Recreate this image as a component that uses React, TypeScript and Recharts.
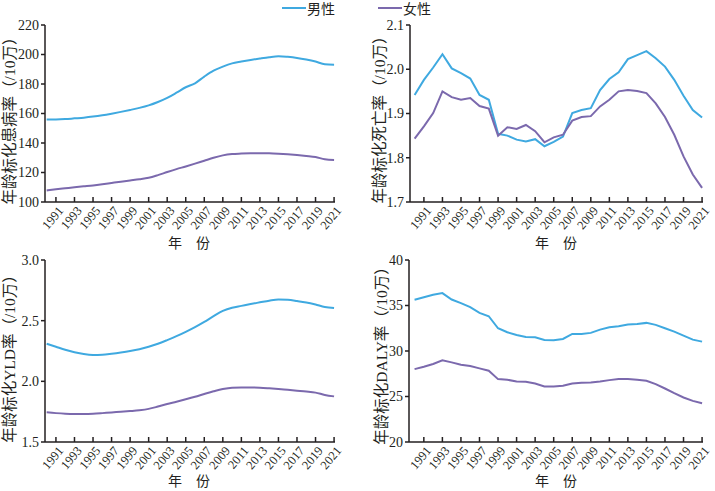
import React from "react";
import { LineChart, Line, XAxis, YAxis } from "recharts";

const years = [
  1990, 1991, 1992, 1993, 1994, 1995, 1996, 1997, 1998, 1999, 2000, 2001,
  2002, 2003, 2004, 2005, 2006, 2007, 2008, 2009, 2010, 2011, 2012, 2013,
  2014, 2015, 2016, 2017, 2018, 2019, 2020, 2021,
];
const yearTicks = [
  1991, 1993, 1995, 1997, 1999, 2001, 2003, 2005, 2007, 2009, 2011, 2013,
  2015, 2017, 2019, 2021,
];

// 患病率
const prevMale = [
  156.0, 156.0, 156.2, 156.7, 157.2, 157.9, 158.8, 159.9, 161.1, 162.4, 163.8,
  165.5, 167.8, 170.6, 174.1, 177.8, 180.5, 185.0, 189.0, 191.8, 194.0, 195.2,
  196.3, 197.3, 198.2, 198.8, 198.4, 197.7, 196.6, 195.2, 193.4, 193.0,
];
const prevFemale = [
  107.8, 108.6, 109.3, 110.0, 110.6, 111.2, 112.0, 112.9, 113.8, 114.6, 115.4,
  116.4, 118.2, 120.3, 122.3, 124.1, 126.0, 128.0, 130.0, 131.6, 132.5, 132.8,
  133.0, 133.1, 133.0, 132.7, 132.3, 131.8, 131.2, 130.5, 129.0, 128.5,
];
const prevTicks = [100, 120, 140, 160, 180, 200, 220];

// 死亡率
const deathMale = [
  1.942, 1.976, 2.004, 2.034, 2.002, 1.991, 1.979, 1.942, 1.931, 1.854, 1.85,
  1.841, 1.837, 1.842, 1.826, 1.836, 1.848, 1.901, 1.908, 1.912, 1.953, 1.978,
  1.993, 2.023, 2.032, 2.041, 2.025, 2.006, 1.976, 1.94, 1.908, 1.891,
];
const deathFemale = [
  1.843, 1.871, 1.901, 1.95, 1.937, 1.931, 1.935, 1.917, 1.911, 1.85, 1.869,
  1.865, 1.874, 1.86, 1.835, 1.846, 1.852, 1.884, 1.892, 1.894, 1.916, 1.931,
  1.95, 1.953, 1.951, 1.946, 1.923, 1.892, 1.852, 1.803, 1.762, 1.732,
];
const deathTicks = [1.7, 1.8, 1.9, 2.0, 2.1];

// YLD率
const yldMale = [
  2.31, 2.285, 2.26, 2.24, 2.225, 2.218, 2.22, 2.228, 2.238, 2.25, 2.265,
  2.285, 2.31, 2.34, 2.372, 2.408, 2.447, 2.49, 2.537, 2.58, 2.607, 2.622,
  2.637, 2.651, 2.665, 2.675, 2.672, 2.662, 2.65, 2.633, 2.613, 2.605,
];
const yldFemale = [
  1.745, 1.738, 1.733, 1.731, 1.731, 1.733, 1.738, 1.744, 1.749, 1.755, 1.762,
  1.773, 1.792, 1.813, 1.832, 1.852, 1.873, 1.896, 1.918, 1.937, 1.948, 1.95,
  1.95, 1.948, 1.943, 1.937, 1.93, 1.923, 1.916, 1.907, 1.888, 1.876,
];
const yldTicks = [1.5, 2.0, 2.5, 3.0];

// DALY率
const dalyMale = [
  35.63, 35.9, 36.18, 36.36, 35.66, 35.26, 34.82, 34.19, 33.82, 32.5, 32.06,
  31.76, 31.54, 31.5, 31.21, 31.18, 31.32, 31.88, 31.88, 31.99, 32.35, 32.61,
  32.72, 32.9, 32.98, 33.09, 32.87, 32.5, 32.13, 31.69, 31.25, 31.03,
];
const dalyFemale = [
  28.01, 28.27, 28.57, 28.97, 28.75, 28.5, 28.35, 28.09, 27.83, 26.91, 26.84,
  26.65, 26.62, 26.43, 26.1, 26.1, 26.18, 26.43, 26.51, 26.54, 26.65, 26.8,
  26.91, 26.91, 26.84, 26.73, 26.36, 25.88, 25.37, 24.89, 24.52, 24.26,
];
const dalyTicks = [20, 25, 30, 35, 40];

const seriesNames = ["男性", "女性"];
const seriesColors = ["#3fa9e0", "#7b69ad"];

const INK = "#231f20";
const FONT = "'Liberation Serif', 'Noto Sans CJK SC', serif";

const rows = (male: number[], female: number[]) =>
  years.map((y, i) => ({ year: y, male: male[i], female: female[i] }));

const YearTick = (props: any) => {
  const { x, y, payload } = props;
  return (
    <g>
      <line x1={x} y1={y} x2={x} y2={y - 5} stroke={INK} strokeWidth={1.5} />
      <text
        x={x + 8}
        y={y + 9}
        transform={`rotate(-50, ${x + 8}, ${y + 9})`}
        textAnchor="end"
        fontSize={12.5}
        fontFamily={FONT}
        fill={INK}
      >
        {payload.value}
      </text>
    </g>
  );
};

type PanelProps = {
  left: number;
  top: number;
  height: number;
  margin: { top: number; right: number; bottom: number; left: number };
  data: { year: number; male: number; female: number }[];
  ticks: number[];
  xDomain: [number, number];
  yLabel: string;
  yLabelPos: [number, number];
  xLabelPos: [number, number];
  curve: "monotone" | "linear";
  fmt?: (v: number) => string;
};

function Panel(p: PanelProps) {
  return (
    <div style={{ position: "absolute", left: p.left, top: p.top }}>
      <LineChart width={360} height={p.height} data={p.data} margin={p.margin}>
        <XAxis
          dataKey="year"
          type="number"
          domain={p.xDomain}
          ticks={yearTicks}
          interval={0}
          tickSize={0}
          tickMargin={0}
          tickLine={false}
          tick={<YearTick />}
          height={40}
          stroke={INK}
          strokeWidth={1.5}
          label={{
            content: () => (
              <text
                x={p.xLabelPos[0]}
                y={p.xLabelPos[1]}
                textAnchor="middle"
                fontSize={14}
                fontFamily={FONT}
                fill={INK}
              >
                年　份
              </text>
            ),
          }}
        />
        <YAxis
          type="number"
          domain={[p.ticks[0], p.ticks[p.ticks.length - 1]]}
          ticks={p.ticks}
          interval={0}
          width={40}
          tickSize={4}
          tickMargin={2}
          tickFormatter={p.fmt}
          tick={{ fontSize: 14, fontFamily: FONT, fill: INK }}
          stroke={INK}
          strokeWidth={1.5}
          label={{
            content: () => (
              <text
                x={p.yLabelPos[0]}
                y={p.yLabelPos[1]}
                transform={`rotate(-90, ${p.yLabelPos[0]}, ${p.yLabelPos[1]})`}
                textAnchor="middle"
                dominantBaseline="central"
                fontSize={15.5}
                fontFamily={FONT}
                fill={INK}
              >
                {p.yLabel}
              </text>
            ),
          }}
        />
        <Line
          type={p.curve}
          dataKey="male"
          name={seriesNames[0]}
          stroke={seriesColors[0]}
          strokeWidth={2}
          dot={false}
          isAnimationActive={false}
        />
        <Line
          type={p.curve}
          dataKey="female"
          name={seriesNames[1]}
          stroke={seriesColors[1]}
          strokeWidth={2}
          dot={false}
          isAnimationActive={false}
        />
      </LineChart>
    </div>
  );
}

const legendPos = [282, 378];

export default function App() {
  return (
    <div
      style={{
        position: "absolute",
        left: 0,
        top: 0,
        width: 715,
        height: 491,
        background: "#fff",
        fontFamily: FONT,
      }}
    >
      <Panel
        left={0}
        top={250}
        height={241}
        margin={{ top: 10, right: 25, bottom: 9, left: 5 }}
        data={rows(yldMale, yldFemale)}
        ticks={yldTicks}
        xDomain={[1989.82, 2021.1]}
        yLabel="年龄标化YLD率（/10万）"
        yLabelPos={[9, 105]}
        xLabelPos={[189, 236]}
        curve="monotone"
        fmt={(v) => v.toFixed(1)}
      />
      <Panel
        left={355}
        top={250}
        height={241}
        margin={{ top: 10, right: 12, bottom: 9, left: 14 }}
        data={rows(dalyMale, dalyFemale)}
        ticks={dalyTicks}
        xDomain={[1989.4, 2021.1]}
        yLabel="年龄标化DALY率（/10万）"
        yLabelPos={[26, 102]}
        xLabelPos={[201, 236]}
        curve="linear"
      />
      <Panel
        left={0}
        top={0}
        height={258}
        margin={{ top: 25, right: 25, bottom: 16, left: 5 }}
        data={rows(prevMale, prevFemale)}
        ticks={prevTicks}
        xDomain={[1989.82, 2021.1]}
        yLabel="年龄标化患病率（/10万）"
        yLabelPos={[9, 117]}
        xLabelPos={[189, 248]}
        curve="monotone"
      />
      <Panel
        left={355}
        top={0}
        height={258}
        margin={{ top: 25, right: 12, bottom: 16, left: 15 }}
        data={rows(deathMale, deathFemale)}
        ticks={deathTicks}
        xDomain={[1989.5, 2021.1]}
        yLabel="年龄标化死亡率（/10万）"
        yLabelPos={[24, 116]}
        xLabelPos={[201, 248]}
        curve="linear"
        fmt={(v) => v.toFixed(1)}
      />

      {seriesNames.map((name, i) => (
        <div
          key={name}
          style={{
            position: "absolute",
            left: legendPos[i],
            top: 0,
            height: 15,
            display: "flex",
            alignItems: "center",
            fontSize: 14,
            color: INK,
          }}
        >
          <span
            style={{
              display: "inline-block",
              width: 24,
              height: 2,
              background: seriesColors[i],
              marginRight: 1,
            }}
          />
          {name}
        </div>
      ))}
    </div>
  );
}
